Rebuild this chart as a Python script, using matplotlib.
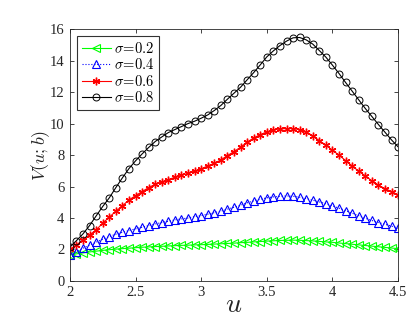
import numpy as np
import matplotlib
matplotlib.use("Agg")
import matplotlib.pyplot as plt

u = [2.0 + 0.05 * i for i in range(51)]

v_02 = [1.65, 1.72, 1.78, 1.84, 1.89, 1.94, 1.98, 2.02, 2.05, 2.08,
        2.11, 2.14, 2.16, 2.18, 2.20, 2.22, 2.24, 2.26, 2.27, 2.29,
        2.30, 2.32, 2.34, 2.36, 2.38, 2.40, 2.43, 2.45, 2.48, 2.50,
        2.53, 2.55, 2.57, 2.58, 2.59, 2.58, 2.56, 2.54, 2.51, 2.48,
        2.45, 2.41, 2.37, 2.33, 2.29, 2.25, 2.21, 2.17, 2.13, 2.09, 2.05]

v_04 = [1.65, 1.86, 2.08, 2.27, 2.46, 2.65, 2.82, 2.97, 3.09, 3.20,
        3.31, 3.41, 3.52, 3.62, 3.71, 3.79, 3.88, 3.94, 4.00, 4.09,
        4.15, 4.24, 4.34, 4.43, 4.56, 4.68, 4.81, 4.96, 5.09, 5.19,
        5.28, 5.34, 5.38, 5.40, 5.38, 5.32, 5.23, 5.13, 5.02, 4.90,
        4.77, 4.62, 4.47, 4.30, 4.15, 3.98, 3.84, 3.71, 3.60, 3.48, 3.35]

v_06 = [2.01, 2.29, 2.61, 2.92, 3.24, 3.67, 4.05, 4.43, 4.77, 5.15,
        5.42, 5.68, 5.93, 6.15, 6.29, 6.44, 6.59, 6.72, 6.84, 6.99,
        7.12, 7.31, 7.48, 7.69, 7.97, 8.22, 8.50, 8.82, 9.09, 9.30,
        9.47, 9.60, 9.66, 9.68, 9.68, 9.62, 9.47, 9.22, 8.92, 8.62,
        8.31, 7.99, 7.65, 7.31, 6.97, 6.68, 6.36, 6.08, 5.87, 5.68, 5.47]

v_08 = [2.16, 2.56, 2.99, 3.52, 4.13, 4.73, 5.28, 5.93, 6.55, 7.14,
        7.63, 8.07, 8.48, 8.86, 9.15, 9.43, 9.62, 9.81, 10.00, 10.15,
        10.34, 10.55, 10.83, 11.15, 11.55, 11.93, 12.31, 12.78, 13.24, 13.73,
        14.24, 14.62, 14.96, 15.24, 15.45, 15.47, 15.32, 15.05, 14.64, 14.22,
        13.71, 13.18, 12.61, 12.06, 11.51, 10.96, 10.45, 9.94, 9.45, 8.96, 8.52]

labels = [r'$\sigma\!=\!0.2$', r'$\sigma\!=\!0.4$', r'$\sigma\!=\!0.6$', r'$\sigma\!=\!0.8$']
xticks = [2, 2.5, 3, 3.5, 4, 4.5]
xticklabels = ['2', '2.5', '3', '3.5', '4', '4.5']
yticks = [0, 2, 4, 6, 8, 10, 12, 14, 16]

plt.rcParams['mathtext.fontset'] = 'cm'
plt.rcParams['font.family'] = ['Liberation Serif', 'DejaVu Serif']

gray = '#262626'
fig = plt.figure(figsize=(4.16, 3.24), dpi=100)
ax = fig.add_axes([0.168, 0.133, 0.789, 0.777])

lw = 0.8
ax.plot(u, v_02, color='#00ff00', linestyle='-', marker='<', markersize=6,
        markerfacecolor='none', markeredgewidth=0.8, linewidth=lw, label=labels[0])
ax.plot(u, v_04, color='#0000ff', linestyle=':', marker='^', markersize=6,
        markerfacecolor='none', markeredgewidth=0.8, linewidth=lw, label=labels[1])
ax.plot(u, v_06, color='#ff0000', linestyle='-', marker=(6, 2, 0), markersize=5.5,
        markeredgewidth=1.0, linewidth=lw, label=labels[2])
ax.plot(u, v_08, color='#000000', linestyle='-', marker='o', markersize=5,
        markerfacecolor='none', markeredgewidth=0.7, linewidth=lw, label=labels[3])

ax.set_xlim(2, 4.5)
ax.set_ylim(0, 16)
ax.set_xticks(xticks)
ax.set_xticklabels(xticklabels)
ax.set_yticks(yticks)
ax.tick_params(direction='in', top=True, right=True, length=3, width=0.6,
               labelsize=10.5, colors=gray, pad=4)
for sp in ax.spines.values():
    sp.set_color(gray)
    sp.set_linewidth(0.6)

ax.set_xlabel(r'$u$', fontsize=20, color=gray, labelpad=-5)
ax.set_ylabel(r'$V(u;b)$', fontsize=13, color=gray, labelpad=-2)

leg = ax.legend(loc='upper left', fontsize=10.5, frameon=True, fancybox=False,
                edgecolor='black', handlelength=2.0, handletextpad=0.2,
                borderpad=0.3, labelspacing=0.1, borderaxespad=0.5)
leg.get_frame().set_linewidth(0.8)

fig.savefig('out.png', dpi=100)
